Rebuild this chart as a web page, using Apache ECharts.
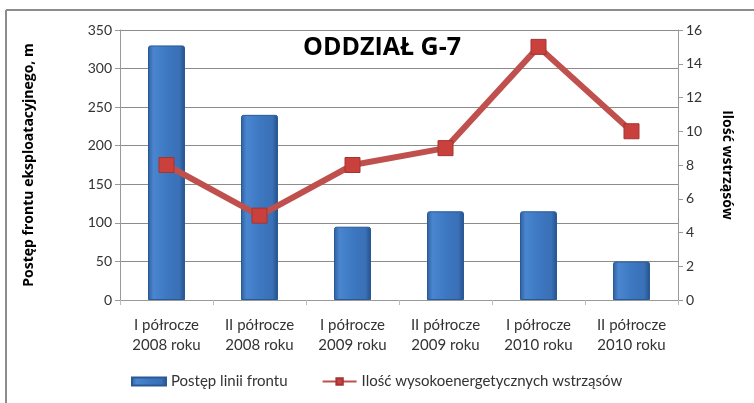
<!DOCTYPE html>
<html>
<head>
<meta charset="utf-8">
<title>Oddział G-7</title>
<script src="https://cdn.jsdelivr.net/npm/echarts@6/dist/echarts.min.js"></script>
<style>
  html, body { margin: 0; padding: 0; background: #fff; }
  #main { width: 754px; height: 403px; }
</style>
</head>
<body>
<div id="main"></div>
<script type="text/javascript">

    // data
    var categories = ['I półrocze\n2008 roku', 'II półrocze\n2008 roku', 'I półrocze\n2009 roku',
                      'II półrocze\n2009 roku', 'I półrocze\n2010 roku', 'II półrocze\n2010 roku'];
    var postepFrontu = [330, 240, 95, 115, 115, 50];
    var iloscWstrzasow = [8, 5, 8, 9, 15, 10];
    var leftTicks = [0, 350, 50];
    var rightTicks = [0, 16, 2];

    var font = 'Lato, "Open Sans", sans-serif';

    var myChart = echarts.init(document.getElementById('main'));

    var barColor = new echarts.graphic.LinearGradient(0, 0, 1, 0, [
        { offset: 0, color: '#2f5f9e' },
        { offset: 0.15, color: '#4a86cf' },
        { offset: 0.5, color: '#3d78c2' },
        { offset: 0.85, color: '#3a70b6' },
        { offset: 1, color: '#24508a' }
    ]);

    var option = {
        animation: false,
        textStyle: { fontFamily: font },
        graphic: [
            { type: 'line', shape: { x1: 6, y1: 10, x2: 6, y2: 403 }, style: { stroke: '#8c8c8c', lineWidth: 2 } },
            { type: 'line', shape: { x1: 6, y1: 10, x2: 754, y2: 10 }, style: { stroke: '#8c8c8c', lineWidth: 2 } }
        ],
        title: {
            text: 'ODDZIAŁ G-7',
            left: 298,
            top: 30,
            textStyle: { fontFamily: '"Open Sans", sans-serif', fontSize: 25, fontWeight: 'bold', color: '#000' }
        },
        legend: {
            bottom: 9,
            left: 126,
            itemGap: 34,
            itemWidth: 34,
            itemHeight: 8,
            textStyle: { fontSize: 15, color: '#333', fontFamily: font },
            data: [
                { name: 'Postęp linii frontu', icon: 'rect' },
                { name: 'Ilość wysokoenergetycznych wstrząsów' }
            ]
        },
        grid: { left: 120, right: 76, top: 30, bottom: 103 },
        xAxis: {
            type: 'category',
            data: categories,
            axisLine: { lineStyle: { color: '#999' } },
            axisTick: { show: true, alignWithLabel: false, length: 5, lineStyle: { color: '#bbb' } },
            axisLabel: { color: '#333', fontSize: 15, margin: 15, lineHeight: 20, interval: 0 }
        },
        yAxis: [
            {
                type: 'value',
                min: leftTicks[0], max: leftTicks[1], interval: leftTicks[2],
                name: 'Postęp frontu eksploatacyjnego, m',
                nameLocation: 'middle',
                nameGap: 84,
                nameTextStyle: { fontSize: 14, fontWeight: 'bold', color: '#000', fontFamily: '"Open Sans", sans-serif' },
                axisLine: { show: true, lineStyle: { color: '#999' } },
                axisTick: { show: true, length: 5, lineStyle: { color: '#999' } },
                axisLabel: { color: '#333', fontSize: 14, margin: 8 },
                splitLine: { lineStyle: { color: '#8c8c8c', width: 1 } }
            },
            {
                type: 'value',
                min: rightTicks[0], max: rightTicks[1], interval: rightTicks[2],
                name: 'Ilość wstrząsów',
                nameLocation: 'middle',
                nameGap: 42,
                nameRotate: -90,
                nameTextStyle: { fontSize: 14, fontWeight: 'bold', color: '#000', fontFamily: '"Open Sans", sans-serif' },
                axisLine: { show: true, lineStyle: { color: '#999' } },
                axisTick: { show: true, length: 5, lineStyle: { color: '#999' } },
                axisLabel: { color: '#333', fontSize: 14, margin: 8 },
                splitLine: { show: false }
            }
        ],
        series: [
            {
                name: 'Postęp linii frontu',
                type: 'bar',
                yAxisIndex: 0,
                barWidth: 37,
                data: postepFrontu,
                itemStyle: {
                    color: barColor,
                    borderColor: '#2a5a96',
                    borderWidth: 1,
                    borderRadius: [2, 2, 0, 0]
                }
            },
            {
                name: 'Ilość wysokoenergetycznych wstrząsów',
                type: 'line',
                yAxisIndex: 1,
                data: iloscWstrzasow,
                symbol: 'rect',
                symbolSize: 15,
                lineStyle: { color: '#c0504d', width: 6 },
                itemStyle: { color: '#c9403c', borderColor: '#a33431', borderWidth: 1 },
                z: 5
            }
        ]
    };

    myChart.setOption(option);

</script>
</body>
</html>
